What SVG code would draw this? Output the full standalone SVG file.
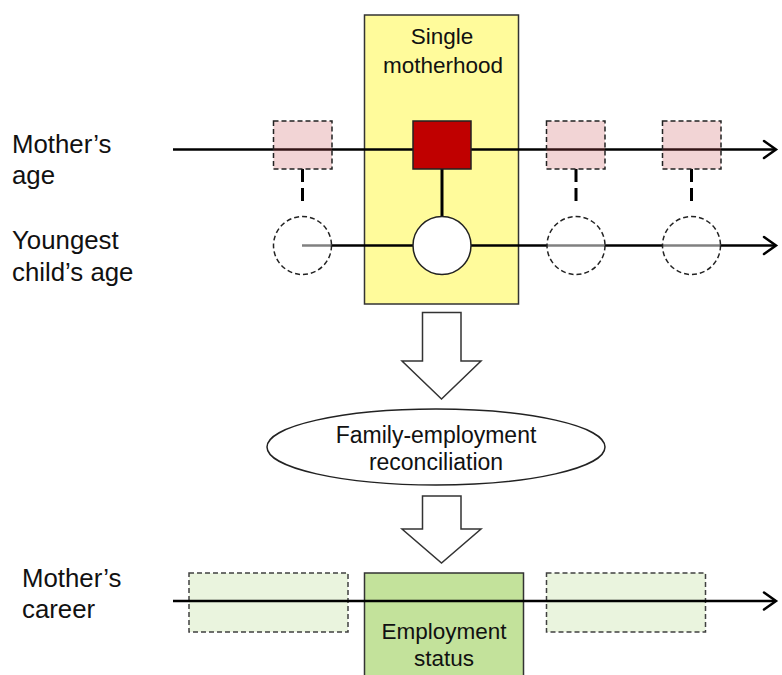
<svg xmlns="http://www.w3.org/2000/svg" width="782" height="675" viewBox="0 0 782 675">
<defs>
<style>
text{font-family:"Liberation Sans",Arial,sans-serif;fill:#111;}
.lbl{font-size:25.8px;}
.ctr{font-size:22.5px;text-anchor:middle;}
.axis{stroke:#000;stroke-width:2.5;fill:none;}
.head{stroke:#000;stroke-width:2.5;fill:none;stroke-linecap:round;stroke-linejoin:miter;}
.pink{fill:rgb(203,83,87);fill-opacity:0.25;stroke:#222;stroke-width:1.5;stroke-dasharray:5,3;}
.ghost{fill:#fff;fill-opacity:0.5;stroke:#222;stroke-width:1.5;stroke-dasharray:5,3;}
.vdash{stroke:#000;stroke-width:3;stroke-dasharray:13,6;}
.lgreen{fill:#EAF4DE;stroke:#404040;stroke-width:1.5;stroke-dasharray:5,3;}
.bigarrow{fill:#fff;stroke:#333;stroke-width:1.5;}
</style>
</defs>
<rect width="782" height="675" fill="#fff"/>

<g id="single-motherhood">
<rect x="364.5" y="15" width="154" height="289" fill="#FFFB9B" stroke="#333" stroke-width="1.5"/>
<text class="ctr" x="442" y="43.5">Single</text>
<text class="ctr" x="443" y="73">motherhood</text>
</g>

<g id="labels">
<text class="lbl" x="12" y="153">Mother’s</text>
<text class="lbl" x="12" y="184">age</text>
<text class="lbl" x="12" y="249">Youngest</text>
<text class="lbl" x="12" y="280.5">child’s age</text>
<text class="lbl" x="22" y="587">Mother’s</text>
<text class="lbl" x="22" y="618">career</text>
</g>

<g id="bottom-boxes">
<rect id="career-before" class="lgreen" x="189" y="573" width="159" height="59"/>
<rect id="career-after" class="lgreen" x="546.5" y="573" width="159" height="59"/>
<g id="employment-status">
<rect x="364.5" y="573" width="159" height="110" fill="#C3E29B" stroke="#333" stroke-width="1.5"/>
<text class="ctr" x="444" y="638.5">Employment</text>
<text class="ctr" x="444" y="666">status</text>
</g>
</g>

<g id="connectors">
<line class="axis" x1="173" y1="149.5" x2="775" y2="149.5"/>
<polyline class="head" points="764,141 776,149.5 764,158"/>
<line class="axis" x1="302" y1="245.5" x2="775" y2="245.5"/>
<polyline class="head" points="764,237 776,245.5 764,254"/>
<line class="axis" x1="173" y1="601" x2="775" y2="601"/>
<polyline class="head" points="764,592.5 776,601 764,609.5"/>
<line class="vdash" x1="302.5" y1="169" x2="302.5" y2="205"/>
<line class="vdash" x1="576" y1="169" x2="576" y2="205"/>
<line class="vdash" x1="691.5" y1="169" x2="691.5" y2="205"/>
<line stroke="#000" stroke-width="3" x1="442" y1="169" x2="442" y2="217"/>
</g>

<g id="mother-age-past"><rect class="pink" x="273.5" y="121" width="58.5" height="48"/></g>
<g id="mother-age-future1"><rect class="pink" x="546.5" y="121" width="58.5" height="48"/></g>
<g id="mother-age-future2"><rect class="pink" x="662.5" y="121" width="58.5" height="48"/></g>
<g id="mother-age-current"><rect x="413" y="121" width="58" height="48" fill="#C00000" stroke="#222" stroke-width="1.5"/></g>

<g id="child-age-past"><circle class="ghost" cx="302.5" cy="245.5" r="29"/></g>
<g id="child-age-future1"><circle class="ghost" cx="576" cy="245.5" r="29"/></g>
<g id="child-age-future2"><circle class="ghost" cx="691.5" cy="245.5" r="29"/></g>
<g id="child-age-current"><circle cx="442" cy="245.5" r="29" fill="#fff" stroke="#222" stroke-width="1.5"/></g>

<g id="arrow1"><polygon class="bigarrow" points="422.5,312.5 461,312.5 461,361 481,361 441.5,399 402,361 422.5,361"/></g>

<g id="reconciliation">
<ellipse cx="436" cy="447" rx="169" ry="38" fill="#fff" stroke="#222" stroke-width="1.5"/>
<text class="ctr" x="436" y="442.5" style="font-size:23px">Family-employment</text>
<text class="ctr" x="436" y="470" style="font-size:23px">reconciliation</text>
</g>

<g id="arrow2"><polygon class="bigarrow" points="422.5,496 461,496 461,529 481,529 441.5,563 402,529 422.5,529"/></g>
</svg>
